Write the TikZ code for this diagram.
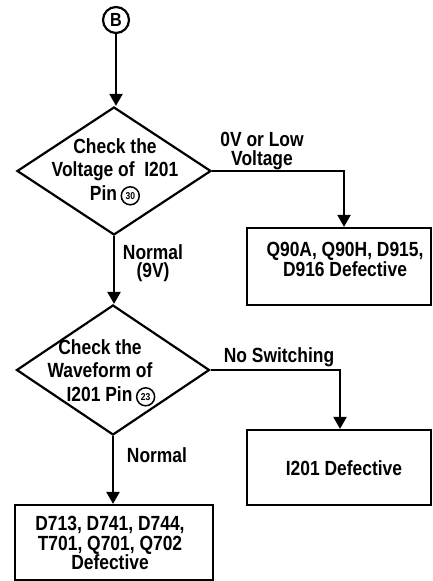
\documentclass[tikz,border=0pt]{standalone}
\usepackage{fontspec}
\setmainfont[FakeStretch=0.85,UprightFont=* Bold]{Liberation Sans}
\usetikzlibrary{shapes.geometric,arrows.meta}
\newcommand{\cnum}[1]{\tikz[baseline={([yshift=-4.5bp]cn.center)}]\node[circle,draw,line width=1.5bp,inner sep=0pt,minimum size=18bp,font=\fontsize{10bp}{10bp}\selectfont](cn){#1};}
\begin{document}
\begin{tikzpicture}[x=1bp,y=-1bp, line width=2.2bp,
  >={Triangle[width=13bp,length=12bp]},
  txt/.style={font=\fontsize{20.5bp}{23.5bp}\selectfont, align=center, inner sep=0pt},
  boxtxt/.style={align=center, inner sep=0pt, font=\fontsize{20.5bp}{18.5bp}\selectfont},
  lbl/.style={align=center, inner sep=0pt, font=\fontsize{20.5bp}{18.5bp}\selectfont},
  dec/.style={diamond, draw, inner sep=0pt},
  boxnode/.style={rectangle, draw, inner sep=0pt}]
\useasboundingbox (0,0) rectangle (432,581);

\node[circle,draw,minimum size=26bp,inner sep=0pt,font=\fontsize{19bp}{19bp}\selectfont] (B) at (116,20) {B};

\node[dec, minimum width=194bp, minimum height=128bp] (d1) at (114,171) {};
\node[txt] (d1t) at (115,172) {Check the\\Voltage of\ \ I201\\Pin\,\cnum{30}};

\node[dec, minimum width=193bp, minimum height=130bp] (d2) at (113,370) {};
\node[txt] (d2t) at (100,373) {Check the\\Waveform of\\\hspace*{22bp}I201 Pin\,\cnum{23}};

\node[boxnode, minimum width=184bp, minimum height=77bp] (b1) at (339,266.5) {};
\node[boxtxt] (b1t) at (345,259) {Q90A, Q90H, D915,\\D916 Defective};

\node[boxnode, minimum width=184bp, minimum height=75bp] (b2) at (339,467.5) {};
\node[boxtxt] (b2t) at (344,468) {I201 Defective};

\node[boxnode, minimum width=198bp, minimum height=75bp] (b3) at (114,542.5) {};
\node[boxtxt, font=\fontsize{20.5bp}{19.5bp}\selectfont] (b3t) at (110,543) {D713, D741, D744,\\T701, Q701, Q702\\Defective};

\node[lbl] (l1) at (262,151) {0V or Low\\Voltage};
\node[lbl] (l2) at (153,263) {Normal\\(9V)};
\node[lbl] (l3) at (279,357) {No Switching};
\node[lbl] (l4) at (157,455) {Normal};

\draw[->] (B.south) -- (B.south |- d1.north);
\draw[->] (d1.east) -| ([xshift=5bp]b1.north);
\draw[->] (d1.south) -- (d1.south |- d2.north);
\draw[->] (d2.east) -| ([xshift=1bp]b2.north);
\draw[->] (d2.south) -- (d2.south |- b3.north);
\end{tikzpicture}
\end{document}
